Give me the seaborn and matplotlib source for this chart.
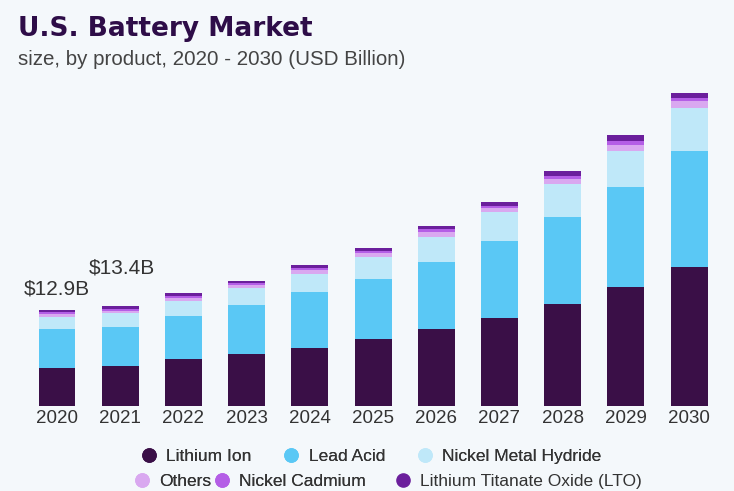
import matplotlib
matplotlib.use("Agg")
import matplotlib.pyplot as plt
from matplotlib.lines import Line2D
import seaborn as sns
import numpy as np
import pandas as pd

years = ["2020", "2021", "2022", "2023", "2024", "2025", "2026", "2027", "2028", "2029", "2030"]
lithium_ion = [5.15, 5.40, 6.25, 7.01, 7.78, 9.03, 10.34, 11.77, 13.71, 15.94, 18.73]
lead_acid = [5.15, 5.27, 5.88, 6.51, 7.55, 8.09, 8.99, 10.47, 11.73, 13.57, 15.54]
nickel_metal_hydride = [1.65, 1.83, 2.02, 2.35, 2.47, 2.92, 3.37, 3.81, 4.41, 4.85, 5.85]
others = [0.40, 0.33, 0.40, 0.40, 0.46, 0.49, 0.67, 0.54, 0.67, 0.81, 0.90]
nickel_cadmium = [0.25, 0.22, 0.27, 0.27, 0.31, 0.32, 0.45, 0.36, 0.45, 0.54, 0.45]
lto = [0.30, 0.35, 0.40, 0.31, 0.44, 0.40, 0.44, 0.54, 0.67, 0.81, 0.70]
series_names = ["Lithium Ion", "Lead Acid", "Nickel Metal Hydride", "Others",
                "Nickel Cadmium", "Lithium Titanate Oxide (LTO)"]
annot_labels = ["$12.9B", "$13.4B"]

colors = ["#3a0f47", "#5ac8f5", "#bfe8f9", "#d9a8f0", "#b45ee6", "#6b1f9c"]
bg = "#f4f8fb"

sns.set_theme(style="white")
plt.rcParams['font.family'] = ['Liberation Sans', 'DejaVu Sans']

fig = plt.figure(figsize=(7.34, 4.91), dpi=100, facecolor=bg)
ax = fig.add_axes([0.0346, 0.1737, 0.9472, 0.7041])
ax.set_facecolor(bg)

series = [lithium_ion, lead_acid, nickel_metal_hydride, others, nickel_cadmium, lto]
bottom = np.zeros(len(years))
for name, vals, c in zip(series_names, series, colors):
    df = pd.DataFrame({"year": years, "value": vals})
    sns.barplot(data=df, x="year", y="value", bottom=bottom, color=c,
                width=0.585, ax=ax, linewidth=0, saturation=1, errorbar=None)
    bottom = bottom + np.array(vals)

totals = bottom
ax.annotate(annot_labels[0], xy=(0, totals[0]), xytext=(0, 8.5), textcoords="offset points",
            ha="center", va="bottom", fontsize=15, color="#333333")
ax.annotate(annot_labels[1], xy=(1, totals[1]), xytext=(1, 20.5), textcoords="offset points",
            ha="center", va="bottom", fontsize=15, color="#333333")

ax.set_xlim(-0.5, 10.5)
ax.set_ylim(0, 46.6)
ax.set_xlabel("")
ax.set_ylabel("")
ax.set_yticks([])
for s in ax.spines.values():
    s.set_visible(False)
ax.tick_params(axis="x", length=0, pad=3, labelsize=13.5, labelcolor="#333333")

fig.text(0.0245, 0.926, "U.S. Battery Market", fontsize=19, fontweight="bold",
         color="#2e0d48", ha="left", va="baseline", family=["DejaVu Sans"])
fig.text(0.0245, 0.8676, "size, by product, 2020 - 2030 (USD Billion)", fontsize=14.8,
         color="#444444", ha="left", va="baseline")

def make_handles(idx):
    return [Line2D([0], [0], marker="o", linestyle="", markersize=9.5,
                   markerfacecolor=colors[i], markeredgecolor=colors[i]) for i in idx]

legends = []
leg1 = fig.legend(make_handles([0, 1, 2]), series_names[0:3], loc="center",
                  bbox_to_anchor=(0.505, 0.071), ncol=3, frameon=False, fontsize=12.5,
                  handletextpad=0.5, columnspacing=1.8, handlelength=1.0)
legends.append(leg1)
fig.add_artist(leg1)
leg2a = fig.legend(make_handles([3, 4]), series_names[3:5], loc="center left",
                   bbox_to_anchor=(0.160, 0.019), ncol=2, frameon=False, fontsize=12.5,
                   handletextpad=0.5, columnspacing=0.12, handlelength=1.0)
legends.append(leg2a)
fig.add_artist(leg2a)
leg2b = fig.legend(make_handles([5]), series_names[5:6], loc="center left",
                   bbox_to_anchor=(0.516, 0.019), ncol=1, frameon=False, fontsize=12.5,
                   handletextpad=0.5, handlelength=1.0)
legends.append(leg2b)
for lg in legends:
    for t in lg.get_texts():
        t.set_color("#333333")

fig.savefig("out.png", dpi=100, facecolor=bg)
